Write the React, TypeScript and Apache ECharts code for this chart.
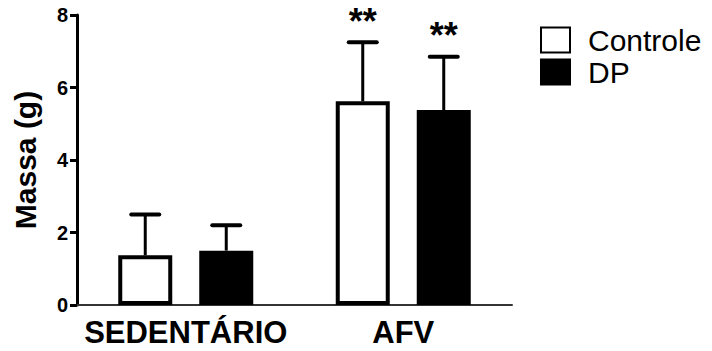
import React, { useEffect, useRef } from "react";
import * as echarts from "echarts";

const categories = ["SEDENTÁRIO", "AFV"];
const seriesNames = ["Controle", "DP"];
const controleMean = [1.37, 5.62];
const controleErr = [1.13, 1.63];
const dpMean = [1.5, 5.38];
const dpErr = [0.7, 1.47];
const controleMarks = ["", "**"];
const dpMarks = ["", "**"];
const yMin = 0;
const yMax = 8;
const yInterval = 2;

const FONT = "'Liberation Sans', Arial, Helvetica, sans-serif";
const BAR_W = 54;
const GAP_RATIO = 0.5;

function errorSeries(name: string, means: number[], errs: number[], marks: string[], sign: number) {
  const offset = (sign * (BAR_W + BAR_W * GAP_RATIO)) / 2;
  return {
    type: "custom",
    name: name + "-err",
    z: 5,
    silent: true,
    data: means.map((m, i) => [i, m, errs[i]]),
    renderItem: (params: any, api: any) => {
      const ci = api.value(0);
      const mean = api.value(1);
      const err = api.value(2);
      const mark = marks[params.dataIndex];
      const base = api.coord([ci, mean]);
      const top = api.coord([ci, mean + err]);
      const x = base[0] + offset;
      const children: any[] = [
        { type: "line", shape: { x1: x, y1: base[1], x2: x, y2: top[1] }, style: { stroke: "#000", lineWidth: 3 } },
        { type: "line", shape: { x1: x - 14, y1: top[1], x2: x + 14, y2: top[1] }, style: { stroke: "#000", lineWidth: 4, lineCap: "round" } },
      ];
      if (mark) {
        children.push({
          type: "text",
          x: x,
          y: top[1] - 21,
          style: { text: mark, fill: "#000", fontSize: 36, fontWeight: "bold", fontFamily: FONT, align: "center", verticalAlign: "middle" },
        });
      }
      return { type: "group", children };
    },
  };
}

export default function App() {
  const ref = useRef<HTMLDivElement>(null);
  useEffect(() => {
    if (!ref.current) return;
    const chart = echarts.init(ref.current, undefined, { renderer: "svg" });
    chart.setOption({
      animation: false,
      backgroundColor: "#fff",
      grid: { left: 77, right: 200, top: 15, bottom: 46 },
      legend: {
        data: seriesNames,
        orient: "vertical",
        left: 540,
        top: 25,
        padding: 0,
        itemWidth: 29,
        itemHeight: 25,
        itemGap: 2,
        icon: "rect",
        textStyle: { fontSize: 30, fontFamily: FONT, color: "#000", padding: [0, 0, 0, 13] },
      },
      xAxis: {
        type: "category",
        data: categories,
        axisLine: { lineStyle: { color: "#333", width: 2 } },
        axisTick: { alignWithLabel: true, length: 8, lineStyle: { color: "#000", width: 2 } },
        axisLabel: { interval: 0, fontSize: 31, fontWeight: "bold", fontFamily: FONT, color: "#000", margin: 12 },
      },
      yAxis: {
        type: "value",
        min: yMin,
        max: yMax,
        interval: yInterval,
        name: "Massa (g)",
        nameLocation: "middle",
        nameGap: 37,
        nameTextStyle: { fontSize: 30, fontWeight: "bold", fontFamily: FONT, color: "#000" },
        splitLine: { show: false },
        axisLine: { show: true, lineStyle: { color: "#000", width: 3 } },
        axisTick: { show: true, length: 7, lineStyle: { color: "#000", width: 3 } },
        axisLabel: { fontSize: 20, fontWeight: "bold", fontFamily: FONT, color: "#000", margin: 9 },
      },
      series: [
        {
          type: "bar",
          name: seriesNames[0],
          data: controleMean,
          barWidth: BAR_W,
          barGap: GAP_RATIO * 100 + "%",
          itemStyle: { color: "#fff", borderColor: "#000", borderWidth: 4 },
        },
        {
          type: "bar",
          name: seriesNames[1],
          data: dpMean,
          barWidth: BAR_W,
          barGap: GAP_RATIO * 100 + "%",
          itemStyle: { color: "#000", borderColor: "#000", borderWidth: 4 },
        },
        errorSeries(seriesNames[0], controleMean, controleErr, controleMarks, -1),
        errorSeries(seriesNames[1], dpMean, dpErr, dpMarks, 1),
      ],
    });
    return () => chart.dispose();
  }, []);
  return <div ref={ref} style={{ position: "fixed", left: 0, top: 0, width: 712, height: 351 }} />;
}
